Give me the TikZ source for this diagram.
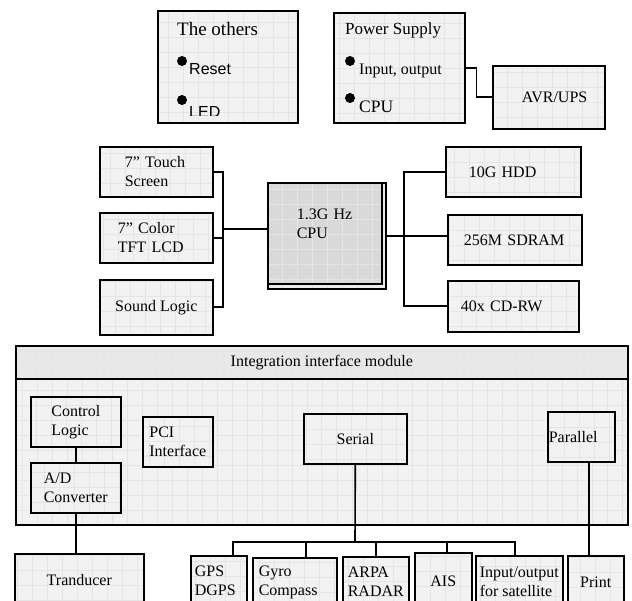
\documentclass[tikz,border=0pt]{standalone}
\usepackage{fontspec}
\setmainfont{Liberation Serif}
\newfontfamily\arialfont{Liberation Sans}

\tikzset{
  gridfill/.style={fill=black!5,
    path picture={\draw[black!10, line width=0.3pt]
      (path picture bounding box.south west) grid[step=15pt]
      (path picture bounding box.north east);}},
  box/.style={draw, line width=1.6pt, gridfill, anchor=north west,
    font=\fontsize{16}{19}\selectfont, align=left, inner sep=2pt},
  link/.style={line width=1.6pt},
  txt/.style={anchor=west, inner sep=0pt},
}

\begin{document}
\begin{tikzpicture}[x=1pt, y=-1pt]
  \useasboundingbox (0,0) rectangle (632,601);
  \clip (0,0) rectangle (632,601);

  % top boxes
  \node[box, minimum width=140pt, minimum height=112pt] (others) at (157,10) {};
  \node[txt, font=\fontsize{19}{22}\selectfont] (othtitle) at (177,29) {The others};
  \fill (182,61) circle (5pt);
  \node[txt, font=\arialfont\fontsize{16}{19}\selectfont] (reset) at (189,69) {Reset};
  \fill (182,100) circle (5pt);
  \begin{scope}
    \clip (others.north west) rectangle ([yshift=8pt]others.south east);
    \node[txt, font=\arialfont\fontsize{16}{19}\selectfont] (led) at (189,112) {LED};
  \end{scope}

  \node[box, minimum width=131pt, minimum height=110pt] (power) at (333,12) {};
  \node[txt, font=\fontsize{17}{20}\selectfont] (powtitle) at (345,30) {Power Supply};
  \fill (350,61) circle (5pt);
  \node[txt, font=\fontsize{16}{19}\selectfont] (inout) at (359,71) {Input, output};
  \fill (350,98) circle (5pt);
  \node[txt, font=\fontsize{17.5}{20}\selectfont] (pcpu) at (359,107) {CPU};

  \node[box, text width=54pt, inner xsep=29pt, minimum height=63pt] (avr) at (492,65) {AVR/UPS};
  \draw[link] (power.east) -- ++(11,0) |- (avr.west);

  % cpu row
  \node[box, text width=63pt, inner xsep=25pt, minimum height=50pt] (touch) at (99,146) {7” Touch\\Screen};
  \node[box, text width=77pt, inner xsep=18pt, minimum height=50pt] (tft) at (99,212) {7” Color\\TFT LCD};
  \node[box, minimum width=113pt, minimum height=55pt, align=center] (sound) at (99,279) {Sound Logic};

  \node[box, fill=black!8, minimum width=118pt, minimum height=106pt] (cpuback) at (267,182) {};
  \node[box, fill=black!15, text width=56pt, inner xsep=29pt, minimum height=101pt] (cpu) at (267,182) {1.3G Hz\\CPU\\~};

  \node[box, text width=89pt, inner xsep=23pt, minimum height=50pt] (hdd) at (445,146) {10G HDD};
  \node[box, text width=102pt, inner xsep=16pt, minimum height=50pt] (sdram) at (447,214) {256M SDRAM};
  \node[box, text width=105pt, inner xsep=13pt, minimum height=51pt] (cdrw) at (447,280) {40x CD-RW};

  \coordinate (lbus) at (223,229);
  \draw[link] (touch.east) -| (lbus) |- (sound.east);
  \draw[link] (tft.east) -- (tft.east -| lbus);
  \draw[link] (lbus) -- (lbus -| cpu.west);

  \coordinate (rbus) at (404,236);
  \draw[link] (hdd.west) -| (rbus) |- (cdrw.west);
  \draw[link] (rbus -| cpuback.east) -- (rbus -| sdram.west);

  % interface module
  \node[box, line width=2.2pt, minimum width=612pt, minimum height=179pt] (module) at (15,345) {};
  \node[box, fill=black!9, minimum width=612pt, minimum height=33pt, align=center] (header) at (15,345) {Integration interface module};

  \node[box, minimum width=90pt, minimum height=50pt] (ctrl) at (30,396) {Control\\Logic};
  \node[box, minimum width=90pt, minimum height=50pt] (adc) at (30,462) {A/D\\Converter};
  \node[box, minimum width=70pt, minimum height=50pt] (pci) at (142,416) {PCI\\Interface};
  \node[box, minimum width=103pt, minimum height=50pt, align=center] (serial) at (303,413) {Serial};
  \node[box, text width=65pt, inner xsep=1pt, minimum height=50pt] (parallel) at (547,411) {Parallel};

  % devices
  \node[box, minimum width=129pt, minimum height=52pt, align=center] (trans) at (14,553) {Tranducer};
  \node[box, text width=48pt, inner xsep=4pt, minimum height=50pt] (gps) at (190,555) {GPS\\DGPS};
  \node[box, text width=72pt, inner xsep=6pt, minimum height=50pt] (gyro) at (252,557) {Gyro\\Compass};
  \node[box, minimum width=66pt, minimum height=50pt] (arpa) at (342,556) {ARPA\\RADAR};
  \node[box, minimum width=57pt, minimum height=56pt, align=center] (ais) at (414,552) {AIS};
  \node[box, minimum width=87pt, minimum height=52pt] (sat) at (475,555) {Input/output\\for satellite};
  \node[box, minimum width=56pt, minimum height=52pt, align=center] (print) at (567,555) {Print};

  \draw[link] (ctrl) -- (adc);
  \draw[link] (adc.south) -- (adc.south |- trans.north);

  \coordinate (sbus) at (355,542);
  \draw[link] (serial.south) -- (sbus);
  \draw[link] ([xshift=14pt]gps.north) |- (sbus) -| ([xshift=-4.5pt]sat.north);
  \foreach \dev/\dx in {gyro/11pt, arpa/0pt, ais/3.5pt}
    \draw[link] ([xshift=\dx]\dev.north) -- ([xshift=\dx]\dev.north |- sbus);
  \draw[link] ([xshift=7.5pt]parallel.south) -- ([xshift=7.5pt]parallel.south |- print.north);
\end{tikzpicture}
\end{document}
